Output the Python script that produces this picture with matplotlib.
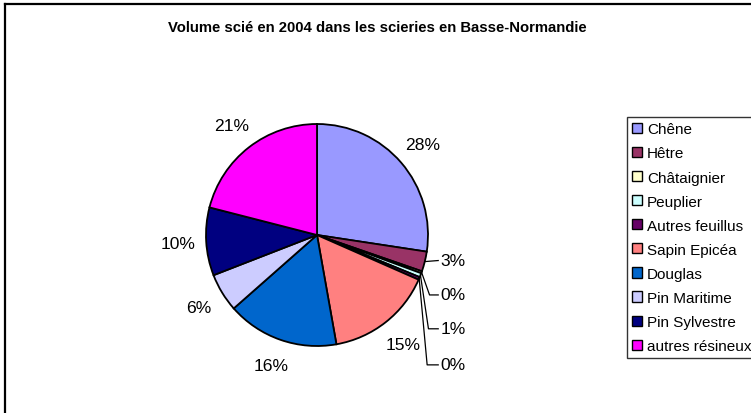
import numpy as np
import matplotlib
matplotlib.use("Agg")
import matplotlib.pyplot as plt

plt.rcParams['font.family'] = ['Liberation Sans', 'DejaVu Sans']

# Data
species = ['Chêne', 'Hêtre', 'Châtaignier', 'Peuplier', 'Autres feuillus',
           'Sapin Epicéa', 'Douglas', 'Pin Maritime', 'Pin Sylvestre', 'autres résineux']
volumes = [27.4, 2.9, 0.3, 0.6, 0.4, 15.6, 16.3, 5.6, 9.9, 21.0]
pct_labels = [28, 3, 0, 1, 0, 15, 16, 6, 10, 21]
colors = ['#9999FF', '#993366', '#FFFFCC', '#CCFFFF', '#660066',
          '#FF8080', '#0066CC', '#CCCCFF', '#000080', '#FF00FF']

W, H = 751, 414
fig = plt.figure(figsize=(W / 100, H / 100), dpi=100)
ax = fig.add_axes([0, 0, 1, 1])

cx, cy, r = 317, 178, 111
wedges, _ = ax.pie(volumes, colors=colors, startangle=90, counterclock=False,
                   center=(cx, cy), radius=r,
                   wedgeprops=dict(edgecolor='black', linewidth=1.3))
ax.set_xlim(0, W)
ax.set_ylim(0, H)
ax.set_aspect('equal')
ax.axis('off')

# labels: big slices outside along the mid angle, small ones stacked on the right
small_y = {1: -0.23, 2: -0.54, 3: -0.845, 4: -1.17}
for i, w in enumerate(wedges):
    ang = np.deg2rad((w.theta1 + w.theta2) / 2)
    txt = f"{pct_labels[i]}%"
    if i in small_y:
        px, py = cx + r * np.cos(ang), cy + r * np.sin(ang)
        ty = cy + small_y[i] * r
        tx = cx + 1.11 * r
        if i == 1:
            ax.plot([px, tx - 2], [py, ty], color='black', lw=0.9)
        else:
            ex = px + 8
            ax.plot([px, ex, tx - 2], [py, ty, ty], color='black', lw=0.9)
        ax.text(tx, ty, txt, ha='left', va='center', fontsize=12.6)
    else:
        ax.text(cx + 1.25 * r * np.cos(ang), cy + 1.25 * r * np.sin(ang), txt,
                ha='center', va='center', fontsize=12.6)

ax.text(377, H - 28, 'Volume scié en 2004 dans les scieries en Basse-Normandie',
        ha='center', va='center', fontsize=10.7, fontweight='bold')

# outer frame (only left and top visible)
ax.plot([5, 5], [0, H - 5], color='black', lw=1.6)
ax.plot([5, W], [H - 5, H - 5], color='black', lw=1.6)

leg = fig.legend(wedges, species, loc='upper left',
                 bbox_to_anchor=(627 / W, 1 - 118 / H), fontsize=11,
                 frameon=True, fancybox=False, edgecolor='black',
                 handlelength=0.65, handleheight=0.65, handletextpad=0.3,
                 labelspacing=0.66, borderpad=0.35, borderaxespad=0)
leg.get_frame().set_linewidth(1.0)
for h in leg.legend_handles:
    h.set_linewidth(1.0)

fig.savefig('out.png', dpi=100)
